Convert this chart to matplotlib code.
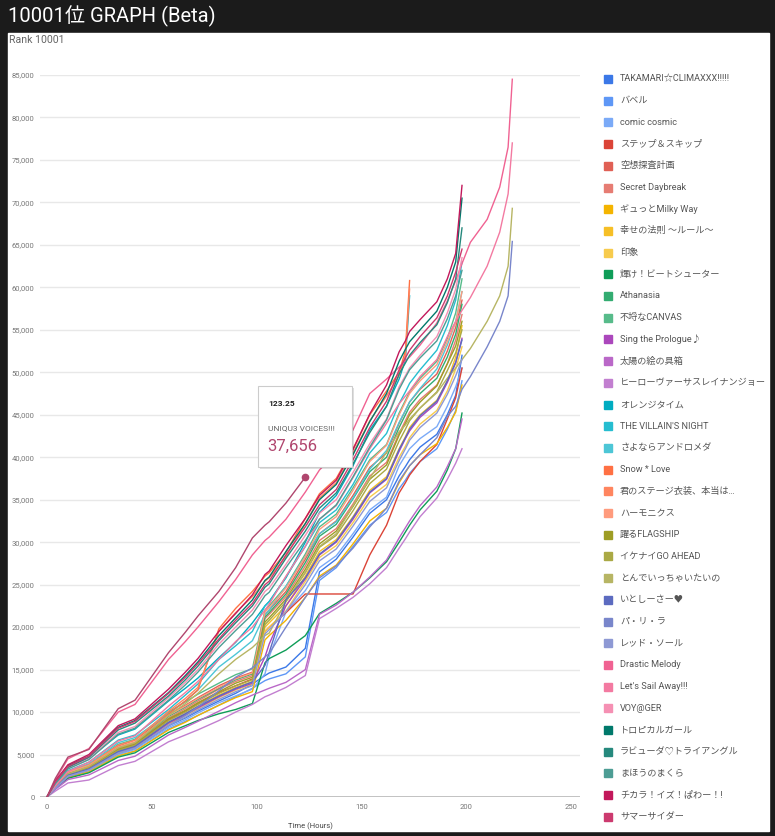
import matplotlib
matplotlib.use('Agg')
import matplotlib.pyplot as plt
from matplotlib.patches import Rectangle
from matplotlib.ticker import FuncFormatter

plt.rcParams['font.family'] = ['Roboto', 'Noto Sans CJK JP', 'DejaVu Sans']

# time grid (hours) shared by every series; a series stops where its list ends
hours = [0, 4, 10, 20, 34, 42, 58, 66, 72, 82, 90, 98, 104, 106, 114, 123.25, 130, 138, 146, 154,
         162, 168, 171, 173, 178, 186, 191, 195, 198, 202, 210, 216, 220, 222]

takamari = [0, 1100, 2500, 3100, 5100, 5700, 8400, 9300, 10100, 11300, 12200, 13300, 14300, 14600, 15300, 17500,
            26500, 28000, 30600, 33400, 35000, 37800, 38900, 39700, 41200, 42700, 45000, 47300, 52000]
babel = [0, 1000, 2300, 2950, 4850, 5400, 8000, 8900, 9600, 10800, 11800, 12800, 13700, 13900, 14500, 16500,
         25500, 27000, 29500, 32000, 33500, 36300, 37300, 38100, 39500, 41000, 43300, 45500, 49000]
comic_cosmic = [0, 1000, 2350, 3000, 5000, 5600, 8200, 9100, 9900, 11100, 11900, 12700, 14500, 16500, 21800, 24300,
                27000, 28400, 31000, 33800, 35300, 39000, 40200, 41000, 42200, 43600, 46000, 48300, 50500]
step_skip = [0, 1200, 2700, 3400, 5600, 6200, 9100, 10100, 11000, 12300, 13100, 13900, 19500, 20000, 21700, 23900,
             23900, 23900, 23900, 28500, 32000, 35800, 37000, 37900, 39500, 41500, 44500, 47000, 50500]
kuso = [0, 1300, 2900, 3700, 6000, 6700, 9700, 10800, 11700, 13100, 14000, 14700, 21500, 22000, 24200, 28000,
        31000, 32500, 35500, 38800, 40500, 44000, 45500, 46500, 48000, 49800, 52500, 55300, 58500]
secret_daybreak = [0, 1200, 2800, 3500, 5700, 6300, 9300, 10400, 11300, 12700, 13600, 14300, 21000, 21500, 23600, 27200,
                   30200, 31600, 34500, 37800, 39400, 42800, 44300, 45300, 46800, 48500, 51000, 53800, 56800]
gyutto = [0, 1000, 2300, 2950, 4850, 5400, 7900, 8800, 9600, 10800, 11700, 12400, 18500, 19000, 20800, 23500,
          26000, 27300, 29800, 32500, 34000, 37000, 38200, 39000, 40300, 41600, 43500, 45300, 48500]
shiawase = [0, 1100, 2600, 3300, 5400, 6000, 8800, 9800, 10700, 12000, 12900, 13600, 20000, 20500, 22500, 26000,
            28900, 30300, 33000, 36100, 37700, 41000, 42400, 43500, 45000, 46700, 49000, 51800, 55500]
inshou = [0, 1050, 2500, 3150, 5200, 5800, 8600, 9600, 10400, 11700, 12600, 13300, 19500, 20000, 21900, 25400,
          28200, 29600, 32300, 35300, 36800, 40000, 41300, 42300, 43900, 45500, 47800, 50400, 53000]
kagayake = [0, 1000, 2200, 2850, 4700, 5200, 7600, 8400, 9000, 9800, 10300, 11000, 15800, 16300, 17300, 19000,
            21600, 22800, 24100, 25800, 27700, 30000, 31200, 32000, 33800, 36000, 38500, 41000, 45200]
athanasia = [0, 1250, 2800, 3600, 5800, 6400, 9500, 10600, 11500, 12800, 13800, 14500, 21200, 21700, 23900, 27600,
             30700, 32100, 35100, 38300, 40000, 43500, 45000, 46000, 47500, 49300, 51800, 54500, 58000]
canvas = [0, 1350, 3000, 3800, 6200, 6800, 10000, 11200, 12100, 13400, 14400, 15100, 22000, 22500, 24800, 28600,
          31800, 33300, 36400, 39700, 41500, 45200, 46700, 47700, 49300, 51300, 54000, 57000, 61000]
prologue = [0, 1100, 2500, 3200, 5300, 5900, 8700, 9700, 10500, 11800, 12700, 13400, 16500, 18000, 22500, 25700,
            28500, 30000, 32700, 35800, 37400, 40700, 42200, 43100, 44700, 46400, 48800, 51100, 54000]
taiyou = [0, 900, 2050, 2600, 4300, 4800, 7300, 8200, 8900, 10100, 11100, 12000, 12600, 12800, 13500, 15000,
          21500, 22600, 24100, 25900, 27900, 30500, 31700, 32500, 34300, 36500, 38900, 41000, 44500]
hero = [0, 700, 1650, 2000, 3700, 4200, 6500, 7300, 7900, 9000, 10000, 10900, 11800, 12000, 12900, 14300,
        21000, 22200, 23500, 25100, 27000, 29300, 30400, 31200, 33000, 35200, 37400, 39300, 41000]
orange_time = [0, 1500, 3500, 4600, 7300, 8000, 11300, 12800, 14000, 16400, 18200, 20500, 22500, 23000, 25800, 30000,
               33500, 35500, 39000, 43200, 46000, 49200, 51500, 59000]
villain = [0, 1500, 3100, 4100, 6700, 7300, 10300, 12000, 13300, 16200, 17800, 19500, 22500, 23000, 25900, 29500,
           32300, 33800, 36800, 40500, 42800, 46300, 47700, 48700, 50300, 52600, 55500, 58500, 63000]
andromeda = [0, 1400, 3000, 3900, 6400, 7000, 9800, 11300, 12600, 15300, 16800, 18400, 21500, 22000, 24800, 28300,
             31000, 32400, 35200, 38600, 40800, 44100, 45500, 46500, 48100, 50400, 53200, 56000, 59500]
snow_love = [0, 1100, 2700, 3500, 5800, 6400, 9800, 11300, 12600, 19800, 22200, 24200, 26000, 26400, 28800, 32800,
             35700, 37500, 41000, 45000, 47800, 50000, 52500, 60800]
stage = [0, 1200, 2900, 3800, 6100, 6700, 10100, 11600, 12900, 19500, 21700, 23600, 25400, 25800, 28300, 32200,
         35200, 37000, 40500, 44300, 47200, 49600, 52000, 59800]
harmonics = [0, 1300, 2900, 3700, 5900, 6500, 9600, 10700, 11600, 12900, 13900, 14600, 21800, 22300, 24600, 28300,
             31500, 33000, 36100, 39500, 41400, 45000, 46500, 47500, 49000, 50900, 53600, 55900, 59500]
flagship = [0, 1200, 2700, 3400, 5600, 6200, 9200, 10200, 11100, 12400, 13400, 14100, 20600, 21100, 23300, 26800,
            29800, 31300, 34200, 37400, 39100, 42600, 44000, 45000, 46500, 48400, 51000, 53100, 56000]
ikenai = [0, 1150, 2650, 3350, 5500, 6100, 9000, 10000, 10900, 12200, 13100, 13800, 20300, 20800, 23000, 26400,
          29400, 30800, 33700, 36900, 38600, 41900, 43300, 44300, 45800, 47700, 50200, 52300, 55000]
tonde = [0, 1100, 2700, 3600, 5800, 6400, 9600, 11000, 12200, 14500, 16200, 17600, 19000, 19300, 23000, 26500,
         29500, 31000, 34300, 37500, 40600, 43000, 43800, 44500, 45800, 47600, 49300, 50500, 51500,
         52800, 56000, 59000, 62500, 69300]
itoshisa = [0, 1100, 2550, 3300, 5350, 5950, 8800, 9800, 10650, 11900, 12800, 13550, 15500, 17000, 23200, 25800,
            28600, 30100, 32900, 35900, 37500, 40900, 42300, 43300, 44900, 46600, 49000, 51200, 53800]
parira = [0, 1000, 2400, 3200, 5200, 5800, 8400, 9600, 10600, 12500, 14100, 15200, 16500, 16900, 20000, 23500,
          25800, 27200, 29300, 31800, 34000, 37200, 38300, 39000, 40300, 42300, 44800, 46000, 48000,
          49500, 53000, 56000, 59000, 65400]
red_sole = [0, 1050, 2450, 3150, 5150, 5750, 8450, 9400, 10250, 11500, 12400, 13100, 19200, 19700, 21800, 25000,
            27800, 29200, 31900, 34800, 36400, 39600, 41000, 42000, 43500, 45200, 47400, 49600, 51500]
drastic = [0, 2000, 4500, 5700, 10000, 10900, 16200, 18300, 20000, 23000, 25600, 28500, 30200, 30600, 32700, 35900,
           38500, 40500, 43200, 47500, 49200, 50600, 51400, 51800, 53200, 55800, 58400, 60800, 62800,
           65300, 68000, 71800, 76500, 84500]
sail_away = [0, 1300, 3000, 4100, 6600, 7200, 10700, 12300, 13600, 16200, 18300, 20000, 22000, 22700, 26000, 29500,
             32700, 34300, 37600, 41000, 44000, 46300, 47200, 47800, 49500, 51500, 54200, 56000, 57300,
             58800, 62500, 66500, 71000, 77000]
voyager = [0, 1700, 3400, 4500, 7600, 8300, 11700, 13500, 15000, 18000, 20000, 22000, 24200, 24600, 27400, 30800,
           33400, 35000, 38200, 41600, 44500, 48300, 49600, 50500, 52000, 54200, 57000, 59800, 63500]
tropical = [0, 1800, 3700, 4800, 8200, 9000, 12300, 14300, 15900, 19000, 21100, 23200, 25500, 25900, 28900, 32200,
            35000, 36800, 40300, 44200, 47500, 51300, 52700, 53600, 55000, 57200, 60000, 63000, 70500]
lovuda = [0, 1700, 3500, 4700, 7900, 8700, 11900, 13800, 15400, 18400, 20500, 22500, 24700, 25100, 28100, 31300,
          34000, 35800, 39200, 42900, 46000, 49800, 51100, 52000, 53500, 55600, 58200, 61000, 67000]
mahou = [0, 1600, 3300, 4400, 7400, 8100, 11400, 13200, 14700, 17600, 19600, 21500, 23700, 24100, 27000, 30200,
         32700, 34400, 37700, 41200, 44400, 48000, 49400, 50300, 51700, 53700, 56300, 59000, 62000]
chikara = [0, 1900, 3800, 5000, 8400, 9200, 12700, 14700, 16300, 19500, 21600, 23800, 26200, 26600, 29600, 32800,
           35500, 37300, 40900, 45100, 48500, 52400, 53700, 54800, 56200, 58300, 61000, 64000, 72000]
summer_cider = [0, 1800, 3600, 4800, 8100, 8900, 12200, 14100, 15700, 18600, 20800, 22800, 25000, 25400, 28500, 31800,
                34400, 36200, 39700, 43500, 46600, 50300, 51700, 52600, 54200, 56400, 59000, 61800, 64500]
uniqu3 = [0, 2200, 4700, 5600, 10400, 11400, 17000, 19400, 21300, 24200, 27000, 30500, 32000, 32400, 34600, 37656]

series_names = ['TAKAMARI☆CLIMAXXX!!!!!', 'バベル', 'comic cosmic', 'ステップ＆スキップ', '空想探査計画',
                'Secret Daybreak', 'ギュっとMilky Way', '幸せの法則 ～ルール～', '印象', '輝け！ビートシューター',
                'Athanasia', '不埒なCANVAS', 'Sing the Prologue♪', '太陽の絵の具箱', 'ヒーローヴァーサスレイナンジョー',
                'オレンジタイム', "THE VILLAIN'S NIGHT", 'さよならアンドロメダ', 'Snow * Love', '君のステージ衣装、本当は…',
                'ハーモニクス', '躍るFLAGSHIP', 'イケナイGO AHEAD', 'とんでいっちゃいたいの', 'いとしーさー♥',
                'パ・リ・ラ', 'レッド・ソール', 'Drastic Melody', "Let's Sail Away!!!", 'VOY@GER',
                'トロピカルガール', 'ラビューダ♡トライアングル', 'まほうのまくら', 'チカラ！イズ！ぱわー！!', 'サマーサイダー',
                'UNIQU3 VOICES!!!']
series_values = [takamari, babel, comic_cosmic, step_skip, kuso, secret_daybreak, gyutto, shiawase, inshou,
                 kagayake, athanasia, canvas, prologue, taiyou, hero, orange_time, villain, andromeda,
                 snow_love, stage, harmonics, flagship, ikenai, tonde, itoshisa, parira, red_sole, drastic,
                 sail_away, voyager, tropical, lovuda, mahou, chikara, summer_cider, uniqu3]
series_colors = ['#3b78e7', '#5e97f6', '#7baaf7', '#db4437', '#e06055', '#e67c73', '#f4b400', '#f6bf26',
                 '#f7cb4d', '#0f9d58', '#33ac71', '#57bb8a', '#ab47bc', '#ba68c8', '#c27fd0', '#00acc1',
                 '#26bdd0', '#4dc6d6', '#ff7043', '#ff855f', '#ff9b7d', '#9e9d24', '#aaa945', '#b7b564',
                 '#5c6bc0', '#7986cb', '#8e99d4', '#f06292', '#f37aa1', '#f590b3', '#00796b', '#26897d',
                 '#4d9d94', '#c2185b', '#cc3a6f', '#b0466e']

W, H = 775, 836
fig = plt.figure(figsize=(W / 100, H / 100), dpi=100)
fig.patch.set_facecolor('#1b1b1b')

# background panel, title
bg = fig.add_axes([0, 0, 1, 1])
bg.set_xlim(0, W)
bg.set_ylim(H, 0)
bg.axis('off')
bg.add_patch(Rectangle((8, 33), 761, 798, color='white'))
bg.text(8, 16, '10001位 GRAPH (Beta)', color='white', fontsize=14.5, va='center')
bg.text(9, 40, 'Rank 10001', color='#666666', fontsize=7.6, va='center')

# main chart
x0, x1, y0, y1 = 40, 580, 75, 797
ax = fig.add_axes([x0 / W, 1 - y1 / H, (x1 - x0) / W, (y1 - y0) / H], zorder=1)
ax.set_facecolor('none')
ax.set_xlim(-3.34, 254.3)
ax.set_ylim(0, 85000)
for s in ax.spines.values():
    s.set_visible(False)
ax.set_yticks(range(0, 85001, 5000))
ax.set_xticks([0, 50, 100, 150, 200, 250])
ax.yaxis.set_major_formatter(FuncFormatter(lambda v, p: f'{int(v):,}'))
ax.tick_params(length=0, labelsize=5.5, colors='#777777')
ax.tick_params(axis='y', pad=4)
ax.tick_params(axis='x', pad=5)
ax.grid(axis='y', color='#e8e8e8', lw=1)
ax.axhline(0, color='#b8b8b8', lw=1.2, zorder=1)
ax.set_axisbelow(True)
ax.set_xlabel('Time (Hours)', fontsize=5.5, color='#444444', labelpad=9)

for vals, col in zip(series_values, series_colors):
    ax.plot(hours[:len(vals)], vals, color=col, lw=1.0, solid_joinstyle='round', zorder=2)

# highlighted point at the end of UNIQU3 VOICES!!!
ax.plot(hours[len(uniqu3) - 1], uniqu3[-1], 'o', ms=4.5, color='#b0466e', zorder=3)

# overlay: tooltip and legend
ov = fig.add_axes([0, 0, 1, 1], zorder=2)
ov.set_xlim(0, W)
ov.set_ylim(H, 0)
ov.axis('off')
ov.add_patch(Rectangle((260, 388), 94, 81, color='#000000', alpha=0.12, lw=0))
ov.add_patch(Rectangle((258, 386), 94, 81, facecolor='white', edgecolor='#cccccc', lw=0.8))
ov.text(268, 403, '123.25', fontsize=6, color='#222222', fontweight='bold', va='center')
ov.text(268, 428, series_names[-1], fontsize=6, color='#666666', va='center')
ov.text(267, 446, f'{uniqu3[-1]:,}', fontsize=12, color='#b0466e', va='center')

for i, (name, col) in enumerate(zip(series_names[:-1], series_colors[:-1])):
    y = 79 + i * 21.7
    ov.add_patch(Rectangle((604, y - 4), 8, 8, color=col))
    ov.text(620, y, name, fontsize=6.6, color='#555555', va='center', clip_on=True)

fig.savefig('out.png', dpi=100, facecolor=fig.get_facecolor())
